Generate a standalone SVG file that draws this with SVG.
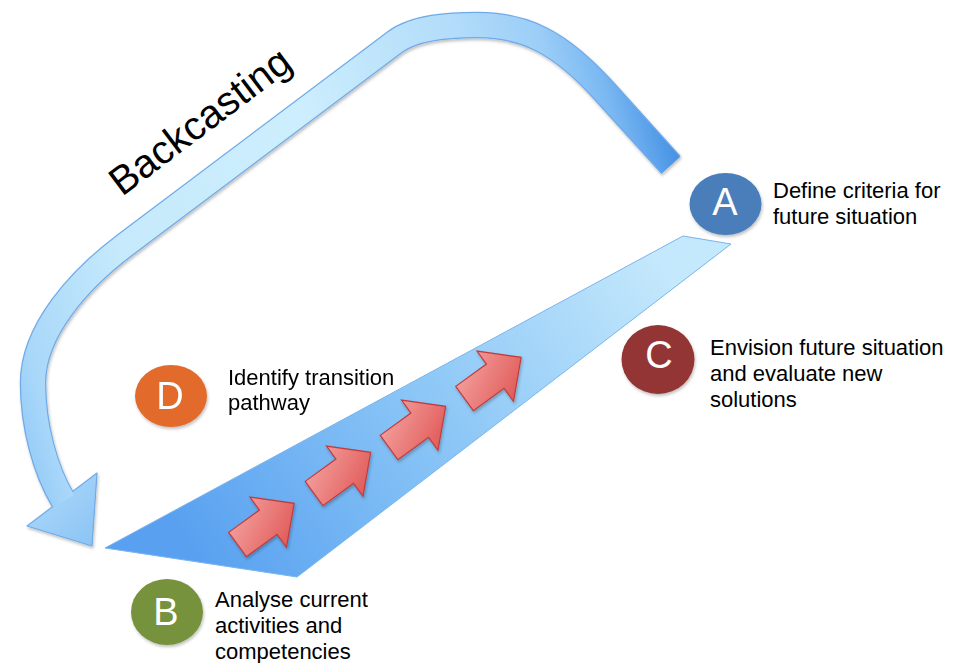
<svg xmlns="http://www.w3.org/2000/svg" width="954" height="663" viewBox="0 0 954 663">
<style>
.lbl{font-family:"Liberation Sans",Arial,sans-serif;font-size:22px;fill:#000}
.let{font-family:"Liberation Sans",Arial,sans-serif;font-size:38px;fill:#fff;text-anchor:middle}
.red{fill:url(#redg);stroke:#c23b3b;stroke-width:1.2;stroke-linejoin:miter}
</style>
<defs>
<linearGradient id="shaftg" gradientUnits="userSpaceOnUse" x1="-92" y1="27" x2="578" y2="-173">
<stop offset="0" stop-color="#9ccff8"/>
<stop offset="0.03" stop-color="#a8d7f9"/>
<stop offset="0.2" stop-color="#c6eafc"/>
<stop offset="0.5" stop-color="#cdeefd"/>
<stop offset="0.75" stop-color="#b2dcfa"/>
<stop offset="0.86" stop-color="#9ccef7"/>
<stop offset="0.93" stop-color="#7ab8f2"/>
<stop offset="1" stop-color="#4893e5"/>
</linearGradient>
<linearGradient id="headg" gradientUnits="userSpaceOnUse" x1="40" y1="490" x2="92" y2="546">
<stop offset="0" stop-color="#a8d6f9"/>
<stop offset="1" stop-color="#8cc4f5"/>
</linearGradient>
<linearGradient id="wedgeg" gradientUnits="userSpaceOnUse" x1="200" y1="560" x2="650" y2="250">
<stop offset="0" stop-color="#59a1f0"/>
<stop offset="0.5" stop-color="#8bc6f6"/>
<stop offset="1" stop-color="#c4e8fc"/>
</linearGradient>
<linearGradient id="redg" x1="0" y1="0" x2="0.6" y2="1">
<stop offset="0" stop-color="#f6aaa8"/>
<stop offset="1" stop-color="#e05a58"/>
</linearGradient>
<filter id="sh" x="-10%" y="-10%" width="120%" height="130%">
<feDropShadow dx="1" dy="2" stdDeviation="1.5" flood-color="#000" flood-opacity="0.25"/>
</filter>
</defs>

<g id="connectors">
<g id="backcasting-arrow" filter="url(#sh)">
<path d="M671,165 L605,92 C560,42 525,25 477,25 C450,25 415,27 395,42 L125,245 C80,279 33,330 33,383 C33,425 45,470 63,500" fill="none" stroke="#6faae8" stroke-width="26.5"/>
<polygon points="27,526 97,473 92,546" fill="url(#headg)" stroke="#6faae8" stroke-width="1.2" stroke-linejoin="round"/>
<path d="M671,165 L605,92 C560,42 525,25 477,25 C450,25 415,27 395,42 L125,245 C80,279 33,330 33,383 C33,425 45,470 63.8,501.3" fill="none" stroke="url(#shaftg)" stroke-width="24"/>
</g>
<polygon id="wedge" points="105,548 683,236 731,244 297,577" fill="url(#wedgeg)" stroke="#78b4ee" stroke-width="1"/>
<g id="steps" filter="url(#sh)">
<path class="red" transform="translate(237.5,544.5) rotate(-36)" d="M0,-15 L38,-15 L38,-31 L70,0 L38,31 L38,15 L0,15 Z"/>
<path class="red" transform="translate(314,493.5) rotate(-36)" d="M0,-15 L38,-15 L38,-31 L70,0 L38,31 L38,15 L0,15 Z"/>
<path class="red" transform="translate(389,447.5) rotate(-36)" d="M0,-15 L38,-15 L38,-31 L70,0 L38,31 L38,15 L0,15 Z"/>
<path class="red" transform="translate(464.5,398.5) rotate(-36)" d="M0,-15 L38,-15 L38,-31 L70,0 L38,31 L38,15 L0,15 Z"/>
</g>
<text transform="translate(122,197) rotate(-37)" font-family="'Liberation Sans',Arial,sans-serif" font-size="40" fill="#000">Backcasting</text>
</g>

<g id="nodeA">
<ellipse cx="725.5" cy="204" rx="36" ry="31" fill="#4a7ebb" filter="url(#sh)"/>
<text class="let" x="725" y="215">A</text>
<text class="lbl" x="773" y="198">Define criteria for</text>
<text class="lbl" x="773" y="224">future situation</text>
</g>

<g id="nodeB">
<ellipse cx="167" cy="612" rx="36" ry="33" fill="#76923c" filter="url(#sh)"/>
<text class="let" x="166" y="625">B</text>
<text class="lbl" x="215" y="607">Analyse current</text>
<text class="lbl" x="215" y="633">activities and</text>
<text class="lbl" x="215" y="659">competencies</text>
</g>

<g id="nodeC">
<ellipse cx="658" cy="359.5" rx="36.5" ry="34.5" fill="#943634" filter="url(#sh)"/>
<text class="let" x="659" y="368">C</text>
<text class="lbl" x="710" y="355">Envision future situation</text>
<text class="lbl" x="710" y="381">and evaluate new</text>
<text class="lbl" x="710" y="407">solutions</text>
</g>

<g id="nodeD">
<ellipse cx="171" cy="396" rx="36" ry="31" fill="#e26b2c" filter="url(#sh)"/>
<text class="let" x="170" y="409">D</text>
<text class="lbl" x="228" y="385">Identify transition</text>
<text class="lbl" x="228" y="410">pathway</text>
</g>
</svg>
